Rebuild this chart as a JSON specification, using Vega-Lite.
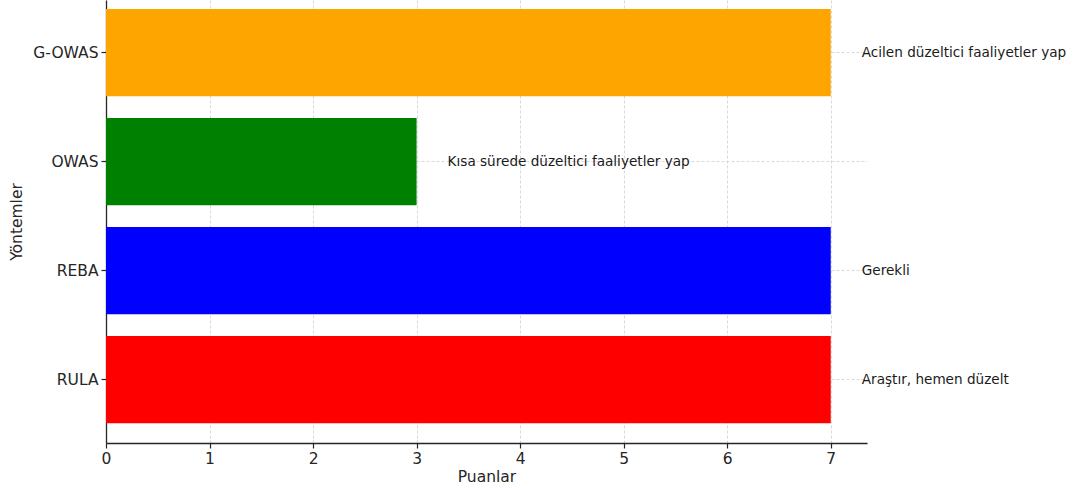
{
  "$schema": "https://vega.github.io/schema/vega-lite/v6.json",
  "autosize": "none",
  "padding": {"left": 106, "top": 0, "right": 210, "bottom": 47},
  "width": 761,
  "height": 443,
  "background": "white",
  "data": {"values": [
    {"method": "RULA", "score": 7, "action": "Araştır, hemen düzelt"},
    {"method": "REBA", "score": 7, "action": "Gerekli"},
    {"method": "OWAS", "score": 3, "action": "Kısa sürede düzeltici faaliyetler yap"},
    {"method": "G-OWAS", "score": 7, "action": "Acilen düzeltici faaliyetler yap"}
  ]},
  "config": {
    "font": "DejaVu Sans",
    "view": {"stroke": null},
    "axis": {
      "labelFont": "DejaVu Sans", "titleFont": "DejaVu Sans",
      "labelFontSize": 15.5, "titleFontSize": 15.5, "titleFontWeight": "normal",
      "labelColor": "#262626", "titleColor": "#262626",
      "domainColor": "#262626", "domainWidth": 1.3,
      "tickColor": "#262626", "tickWidth": 1.2, "tickSize": 5,
      "gridColor": "#cfcfcf", "gridDash": [3, 2], "gridWidth": 0.8,
      "zindex": 1
    }
  },
  "encoding": {
    "y": {
      "field": "method", "type": "nominal",
      "sort": ["G-OWAS", "OWAS", "REBA", "RULA"],
      "scale": {"paddingInner": 0.2, "paddingOuter": 0.132, "align": 0.31},
      "axis": {"title": "Yöntemler", "grid": true, "bandPosition": 0.5, "labelPadding": 3, "titlePadding": 8}
    }
  },
  "layer": [
    {
      "mark": {"type": "bar"},
      "encoding": {
        "x": {
          "field": "score", "type": "quantitative",
          "scale": {"domain": [0, 7.35], "nice": false, "zero": true},
          "axis": {"title": "Puanlar", "values": [0, 1, 2, 3, 4, 5, 6, 7], "format": "d", "grid": true, "labelPadding": 3, "titlePadding": 3, "labelFlush": false}
        },
        "color": {
          "field": "method", "type": "nominal",
          "scale": {"domain": ["RULA", "REBA", "OWAS", "G-OWAS"], "range": ["#FF0000", "#0000FF", "#008000", "#FFA500"]},
          "legend": null
        }
      }
    },
    {
      "mark": {"type": "text", "align": "left", "baseline": "middle", "dx": 31, "fontSize": 13.6, "color": "#1a1a1a", "font": "DejaVu Sans"},
      "encoding": {
        "x": {"field": "score", "type": "quantitative"},
        "text": {"field": "action"}
      }
    }
  ]
}
